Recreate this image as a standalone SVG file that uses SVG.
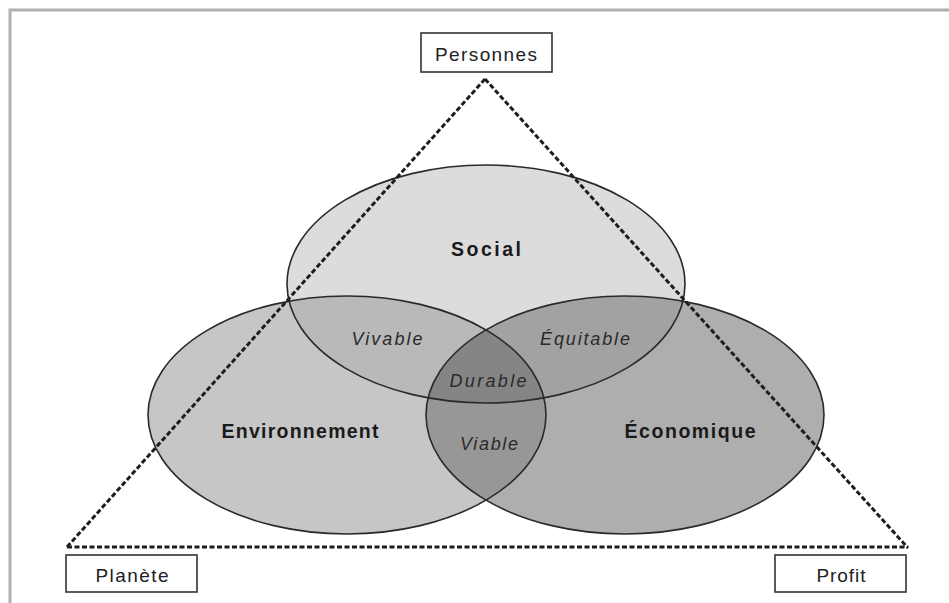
<svg xmlns="http://www.w3.org/2000/svg" width="949" height="603" viewBox="0 0 949 603">
  <style>
    .box { fill: #ffffff; stroke: #333333; stroke-width: 1.6; }
    .lbl { font-family: "Liberation Sans", Arial, sans-serif; font-size: 19px; fill: #222222; text-anchor: middle; }
    .big { font-family: "Liberation Sans", Arial, sans-serif; font-size: 19.5px; font-weight: bold; fill: #1a1a1a; text-anchor: middle; }
    .it { font-family: "Liberation Sans", Arial, sans-serif; font-size: 18px; font-style: italic; fill: #2a2a2a; text-anchor: middle; }
    .outline { fill: none; stroke: #2a2a2a; stroke-width: 1.6; }
    .dash { fill: none; stroke: #1e1e1e; stroke-width: 3; stroke-dasharray: 5 2.5; }
  </style>
  <defs>
    <clipPath id="cSoc"><ellipse cx="486" cy="284" rx="199" ry="119"/></clipPath>
    <clipPath id="cEnv"><ellipse cx="347" cy="415" rx="199" ry="119"/></clipPath>
    <clipPath id="cEco"><ellipse cx="625" cy="415" rx="199" ry="119"/></clipPath>
  </defs>

  <rect x="0" y="0" width="949" height="603" fill="#ffffff"/>
  <path d="M10,603 V10 H949" fill="none" stroke="#b0b0b0" stroke-width="3"/>

  <g id="fills">
    <ellipse cx="347" cy="415" rx="199" ry="119" fill="#c6c6c6"/>
    <ellipse cx="625" cy="415" rx="199" ry="119" fill="#aeaeae"/>
    <ellipse cx="486" cy="284" rx="199" ry="119" fill="#dcdcdc"/>
    <g clip-path="url(#cSoc)"><ellipse cx="347" cy="415" rx="199" ry="119" fill="#b9b9b9"/></g>
    <g clip-path="url(#cSoc)"><ellipse cx="625" cy="415" rx="199" ry="119" fill="#a2a2a2"/></g>
    <g clip-path="url(#cEnv)"><ellipse cx="625" cy="415" rx="199" ry="119" fill="#979797"/></g>
    <g clip-path="url(#cEco)"><g clip-path="url(#cEnv)"><ellipse cx="486" cy="284" rx="199" ry="119" fill="#858585"/></g></g>
  </g>

  <g id="social">
    <ellipse class="outline" cx="486" cy="284" rx="199" ry="119"/>
    <text class="big" x="486" y="256" textLength="70" lengthAdjust="spacing">Social</text>
  </g>
  <g id="environnement">
    <ellipse class="outline" cx="347" cy="415" rx="199" ry="119"/>
    <text class="big" x="300" y="438" textLength="157" lengthAdjust="spacing">Environnement</text>
  </g>
  <g id="economique">
    <ellipse class="outline" cx="625" cy="415" rx="199" ry="119"/>
    <text class="big" x="690" y="438" textLength="131" lengthAdjust="spacing">Économique</text>
  </g>
  <g id="vivable"><text class="it" x="387" y="345" textLength="71" lengthAdjust="spacing">Vivable</text></g>
  <g id="equitable"><text class="it" x="585" y="345" textLength="90" lengthAdjust="spacing">Équitable</text></g>
  <g id="durable"><text class="it" x="488" y="387" textLength="77" lengthAdjust="spacing">Durable</text></g>
  <g id="viable"><text class="it" x="489" y="450" textLength="58" lengthAdjust="spacing">Viable</text></g>

  <g id="connectors">
    <path class="dash" d="M485,79 L67,547"/>
    <path class="dash" d="M485,79 L908,548"/>
    <path class="dash" d="M67,547 L908,547"/>
  </g>

  <g id="personnes">
    <rect class="box" x="421" y="33" width="131" height="39"/>
    <text class="lbl" x="486" y="61" textLength="102" lengthAdjust="spacing">Personnes</text>
  </g>
  <g id="planete">
    <rect class="box" x="66" y="555" width="131" height="37"/>
    <text class="lbl" x="132" y="582" textLength="73" lengthAdjust="spacing">Planète</text>
  </g>
  <g id="profit">
    <rect class="box" x="775" y="555" width="131" height="37"/>
    <text class="lbl" x="841" y="582" textLength="49" lengthAdjust="spacing">Profit</text>
  </g>
</svg>
